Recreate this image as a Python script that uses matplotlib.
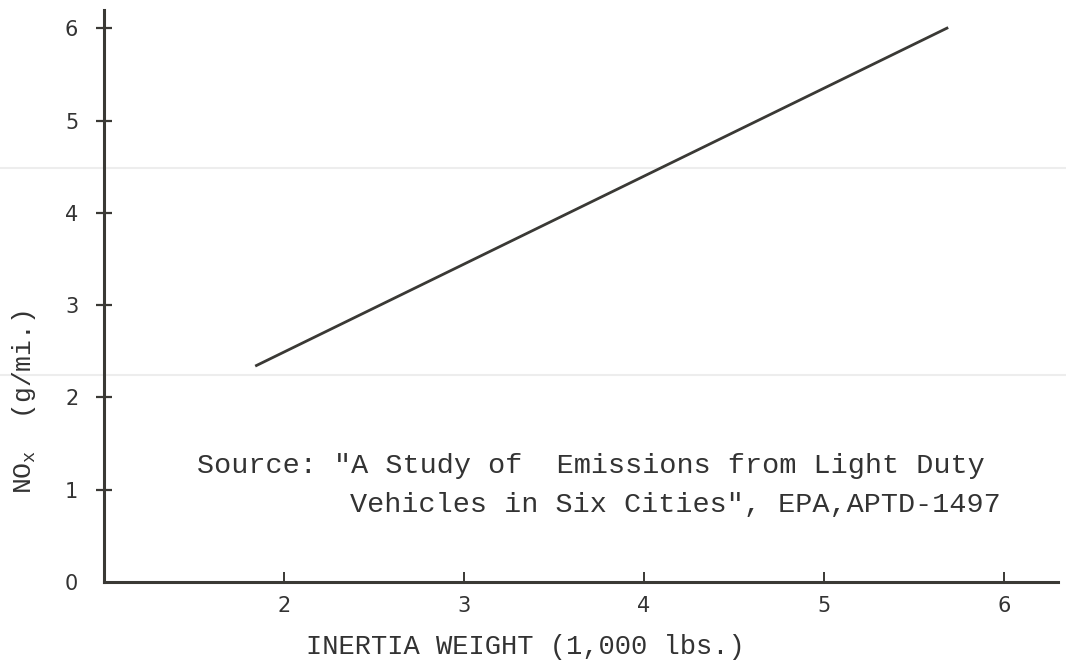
import matplotlib
matplotlib.use("Agg")
import matplotlib.pyplot as plt
from matplotlib.lines import Line2D

# Data
weight = [1.84, 5.69]          # inertia weight (1,000 lbs)
nox = [2.34, 6.01]             # NOx (g/mi.)
x_ticks = [2, 3, 4, 5, 6]
y_ticks = [0, 1, 2, 3, 4, 5, 6]

ink = "#3a3935"
txt = "#333333"
W, H = 1066, 666
fig = plt.figure(figsize=(W / 100, H / 100), dpi=100)
fig.patch.set_facecolor("white")

# faint scan artefact lines (behind everything)
for yy in (168, 375):
    fig.add_artist(Line2D([0, 1], [1 - yy / H, 1 - yy / H], color="#ededed",
                          lw=1.5, zorder=-5))

ax = fig.add_axes([104 / W, (H - 582) / H, (1058 - 104) / W, (582 - 10) / H])
ax.set_facecolor("none")
ax.plot(weight, nox, color=ink, lw=2.0, solid_capstyle="butt")

ax.set_xlim(1.0, 6.3)
ax.set_ylim(0, 6.2)
ax.set_xticks(x_ticks)
ax.set_yticks(y_ticks)
for s in ("top", "right"):
    ax.spines[s].set_visible(False)
for s in ("left", "bottom"):
    ax.spines[s].set_linewidth(2.2)
    ax.spines[s].set_color(ink)

ax.tick_params(axis="y", direction="inout", length=11, width=1.6, color=ink,
               labelsize=15, labelcolor=txt, pad=13)
ax.tick_params(axis="x", direction="in", length=7, width=1.4, color=ink,
               labelsize=15, labelcolor=txt, pad=10)
ax.yaxis.get_major_ticks()[0].tick1line.set_visible(False)
for lab in ax.get_xticklabels() + ax.get_yticklabels():
    lab.set_family("DejaVu Sans")

mono = "Liberation Mono"
fig.text(306 / W, 1 - 647 / H, "INERTIA WEIGHT (1,000 lbs.)", family=mono,
         fontsize=19.5, color=txt, ha="left", va="center")
fig.text(24 / W, 1 - 402 / H, "NO$_\\mathregular{x}$  (g/mi.)", family=mono,
         fontsize=19, color=txt, rotation=90, ha="center", va="center")

fig.text(197 / W, 1 - 466 / H, "Source: \"A Study of  Emissions from Light Duty",
         family=mono, fontsize=20.5, color=txt, ha="left", va="center")
fig.text(350 / W, 1 - 505 / H, "Vehicles in Six Cities\", EPA,APTD-1497",
         family=mono, fontsize=20.5, color=txt, ha="left", va="center")

fig.savefig("out.png", dpi=100, facecolor="white")
